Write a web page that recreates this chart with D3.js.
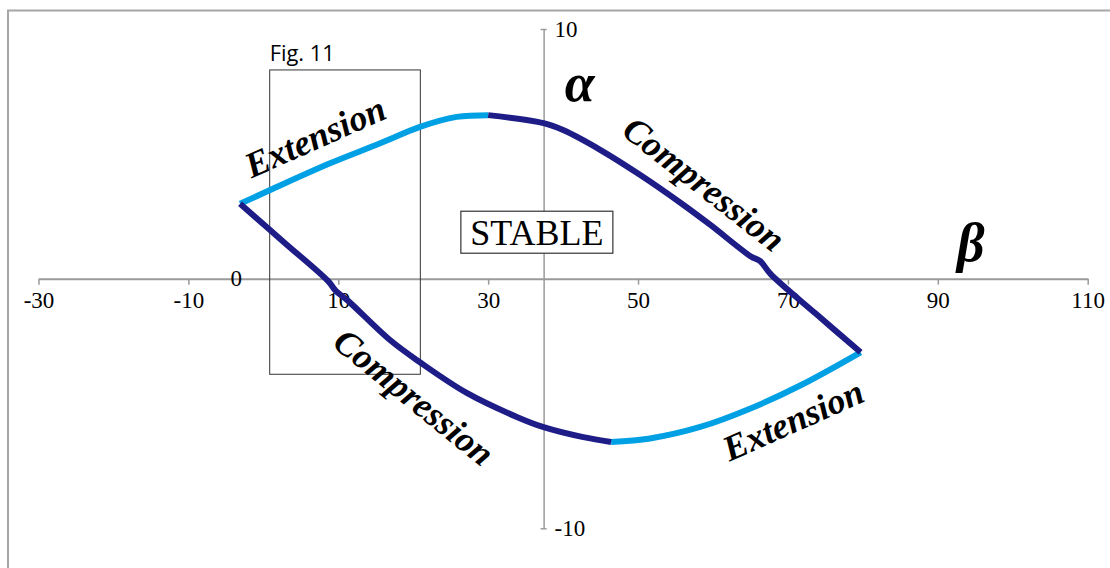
<!DOCTYPE html>
<html>
<head>
<meta charset="utf-8">
<script src="https://cdn.jsdelivr.net/npm/d3@7"></script>
<style>
  html, body { margin: 0; padding: 0; background: #fff; }
  svg { display: block; }
  .tick text { font-family: "Liberation Serif", "Times New Roman", serif; fill: #000; }
</style>
</head>
<body>
<svg id="chart" width="1110" height="568"></svg>
<script>
// Stability envelope in the (beta, alpha) plane, traced as four branches.
const upperExtensionBeta   = [-3.1, 0.9, 8.9, 15.6, 20.9, 25.8, 30.0];
const upperExtensionAlpha  = [3.0, 3.55, 4.62, 5.42, 6.08, 6.48, 6.55];

const upperCompressionBeta  = [30.0, 37.4, 40.0, 45.0, 50.3, 55.7, 59.7, 65.0, 66.3, 67.7, 73.7, 79.7];
const upperCompressionAlpha = [6.55, 6.23, 5.95, 5.15, 4.15, 3.03, 2.14, 0.90, 0.70, 0.18, -1.40, -2.95];

const lowerExtensionBeta   = [46.4, 51.6, 58.3, 65.0, 71.7, 79.7];
const lowerExtensionAlpha  = [-6.54, -6.40, -5.94, -5.20, -4.27, -2.95];

const lowerCompressionBeta  = [-3.1, 2.9, 8.65, 9.7, 11.2, 16.9, 20.9, 27.2, 33.9, 37.4, 42.7, 46.4];
const lowerCompressionAlpha = [3.0, 1.42, -0.10, -0.50, -0.86, -2.46, -3.35, -4.59, -5.55, -5.95, -6.35, -6.54];

const betaTicks  = [-30, -10, 10, 30, 50, 70, 90, 110];
const alphaTicks = [-10, 10];
const alphaAxisAtBeta = 37.4;

// Boxed sub-region shown in Fig. 11
const figBoxBeta  = [0.85, 20.95];
const figBoxAlpha = [-3.83, 8.36];

const colors = { extension: "#00a0e4", compression: "#1e1c86" };

const svg = d3.select("#chart");

// outer frame
svg.append("rect")
  .attr("x", 8).attr("y", 10.5)
  .attr("width", 1200).attr("height", 700)
  .attr("fill", "none").attr("stroke", "#a6a6a6").attr("stroke-width", 2);

const x = d3.scaleLinear().domain([-30, 110]).range([38.5, 1087.7]);
const y = d3.scaleLinear().domain([-10, 10]).range([528.3, 29]);
const signed = d => d < 0 ? "-" + Math.abs(d) : String(d);

// horizontal (beta) axis through alpha = 0
const xAxis = svg.append("g")
  .attr("transform", `translate(0,${y(0)})`)
  .call(d3.axisBottom(x).tickValues(betaTicks).tickSize(6).tickSizeOuter(0).tickPadding(7)
        .tickFormat(signed));
xAxis.select(".domain").attr("stroke", "#9a9a9a").attr("stroke-width", 2);
xAxis.selectAll(".tick line").attr("stroke", "#9a9a9a").attr("stroke-width", 1.5);
xAxis.selectAll(".tick text").style("font-size", "23px");

// vertical (alpha) axis
const yAxis = svg.append("g")
  .attr("transform", `translate(${x(alphaAxisAtBeta)},0)`)
  .call(d3.axisRight(y).tickValues(alphaTicks).tickSize(3).tickSizeOuter(0).tickPadding(8)
        .tickFormat(signed));
yAxis.select(".domain").attr("stroke", "#9a9a9a").attr("stroke-width", 1.5);
yAxis.selectAll(".tick line").attr("x1", -3).attr("x2", 3).attr("stroke", "#9a9a9a").attr("stroke-width", 1.5);
yAxis.selectAll(".tick text").style("font-size", "23px");

// origin label
svg.append("text")
  .attr("x", x(-3.6)).attr("y", y(0))
  .attr("text-anchor", "middle").attr("dominant-baseline", "central")
  .style("font-family", "'Liberation Serif', serif").style("font-size", "23px")
  .text("0");

// Fig. 11 box
svg.append("rect")
  .attr("x", x(figBoxBeta[0])).attr("y", y(figBoxAlpha[1]))
  .attr("width", x(figBoxBeta[1]) - x(figBoxBeta[0]))
  .attr("height", y(figBoxAlpha[0]) - y(figBoxAlpha[1]))
  .attr("fill", "none").attr("stroke", "#333").attr("stroke-width", 1);
svg.append("text")
  .attr("x", x(figBoxBeta[0])).attr("y", y(figBoxAlpha[1]) - 9)
  .style("font-family", "'Open Sans', sans-serif").style("font-size", "22px")
  .attr("textLength", 65).attr("lengthAdjust", "spacingAndGlyphs")
  .text("Fig. 11");

// envelope branches
const line = d3.line().x(d => x(d[0])).y(d => y(d[1])).curve(d3.curveCatmullRom.alpha(0.5));
const branches = [
  { beta: upperExtensionBeta, alpha: upperExtensionAlpha, kind: "extension" },
  { beta: lowerExtensionBeta, alpha: lowerExtensionAlpha, kind: "extension" },
  { beta: upperCompressionBeta, alpha: upperCompressionAlpha, kind: "compression" },
  { beta: lowerCompressionBeta, alpha: lowerCompressionAlpha, kind: "compression" }
];
svg.append("g").selectAll("path")
  .data(branches)
  .join("path")
  .attr("d", b => line(b.beta.map((v, i) => [v, b.alpha[i]])))
  .attr("fill", "none")
  .attr("stroke", b => colors[b.kind])
  .attr("stroke-width", 6)
  .attr("stroke-linejoin", "round");

// STABLE region label
const stable = svg.append("g").attr("transform", `translate(${x(36.5)},${y(1.86)})`);
stable.append("rect")
  .attr("x", -76).attr("y", -21).attr("width", 152).attr("height", 42)
  .attr("fill", "#fff").attr("stroke", "#333").attr("stroke-width", 1.2);
stable.append("text")
  .attr("text-anchor", "middle").attr("y", 13)
  .style("font-family", "'Liberation Serif', serif").style("font-size", "36px")
  .text("STABLE");

// branch annotations
const notes = [
  { text: "Extension",   beta: 6.9,  alpha: 5.67,  angle: -24 },
  { text: "Extension",   beta: 70.7, alpha: -5.67, angle: -24 },
  { text: "Compression", beta: 58.8, alpha: 3.79,  angle: 38 },
  { text: "Compression", beta: 20.1, alpha: -4.75, angle: 39 }
];
svg.append("g").selectAll("text")
  .data(notes)
  .join("text")
  .attr("transform", d => `translate(${x(d.beta)},${y(d.alpha)}) rotate(${d.angle})`)
  .attr("text-anchor", "middle").attr("dominant-baseline", "central")
  .style("font-family", "'Liberation Serif', serif")
  .style("font-size", "36px").style("font-weight", "bold").style("font-style", "italic")
  .text(d => d.text);

// axis symbols
svg.append("text")
  .attr("x", x(42.2)).attr("y", y(7.1))
  .attr("text-anchor", "middle")
  .style("font-family", "'Liberation Serif', serif")
  .style("font-size", "54px").style("font-weight", "bold").style("font-style", "italic")
  .text("α");
svg.append("text")
  .attr("x", x(94.4)).attr("y", y(0.7))
  .attr("text-anchor", "middle")
  .style("font-family", "'Liberation Serif', serif")
  .style("font-size", "54px").style("font-weight", "bold").style("font-style", "italic")
  .text("β");
</script>
</body>
</html>
